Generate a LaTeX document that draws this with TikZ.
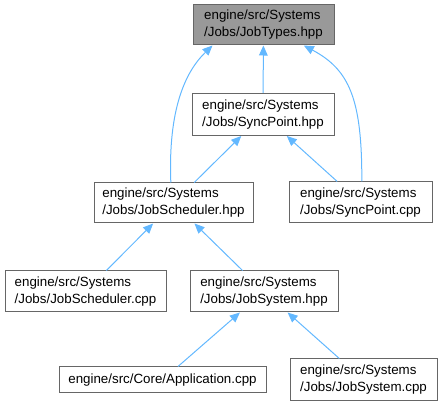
\documentclass[tikz,border=0pt]{standalone}
\usepackage{fontspec}
\setmainfont{Liberation Sans}
\usetikzlibrary{arrows.meta,calc}
\definecolor{edgeblue}{HTML}{63B8FF}
\definecolor{boxline}{HTML}{666666}
\definecolor{rootfill}{HTML}{999999}

\begin{document}
\begin{tikzpicture}[
  x=0.75pt,y=-0.75pt,
  file/.style={draw=boxline,line width=0.75pt,fill=white,align=left,inner sep=0pt,minimum height=30.75pt,font=\fontsize{10}{12.75}\selectfont},
  root/.style={file,fill=rootfill},
  edge/.style={-{Triangle[length=7.5pt,width=6.5pt]},draw=edgeblue,line width=0.75pt}
]
\useasboundingbox (0,0) rectangle (444,406);

% Files, top to bottom
\node[root,minimum width=105.75pt,minimum height=30pt] (types) at (263.5,25) {engine/src/Systems\\/Jobs/JobTypes.hpp};
\node[file,minimum width=106.5pt,minimum height=31.5pt] (sphpp) at (263,114.5) {engine/src/Systems\\/Jobs/SyncPoint.hpp};
\node[file,minimum width=119.25pt,minimum height=30pt] (jsh) at (173.5,203) {engine/src/Systems\\/Jobs/JobScheduler.hpp};
\node[file,minimum width=107.25pt] (spcpp) at (360.5,202.5) {engine/src/Systems\\/Jobs/SyncPoint.cpp};
\node[file,minimum width=120.75pt] (jscpp) at (85.5,291.5) {engine/src/Systems\\/Jobs/JobScheduler.cpp};
\node[file,minimum width=111pt] (jsyh) at (264,291.5) {engine/src/Systems\\/Jobs/JobSystem.hpp};
\node[file,minimum width=155.25pt,minimum height=19.5pt] (app) at (162.5,380) {engine/src/Core/Application.cpp};
\node[file,minimum width=110.25pt,minimum height=31.5pt] (jsycpp) at (363.5,380) {engine/src/Systems\\/Jobs/JobSystem.cpp};

% Include edges
\draw[edge] (sphpp) -- (types);
\draw[edge] ([xshift=-2pt]jsh.north) .. controls (168,110) and (185,72) .. ([xshift=15pt]types.south west);
\draw[edge] ([xshift=1pt]spcpp.north) .. controls (362,100) and (350,70) .. ([xshift=-23pt]types.south east);
\draw[edge] (jsh) -- (sphpp);
\draw[edge] (spcpp) -- (sphpp);
\draw[edge] (jscpp) -- (jsh);
\draw[edge] (jsyh) -- (jsh);
\draw[edge] (app) -- (jsyh);
\draw[edge] (jsycpp) -- (jsyh);
\end{tikzpicture}
\end{document}
